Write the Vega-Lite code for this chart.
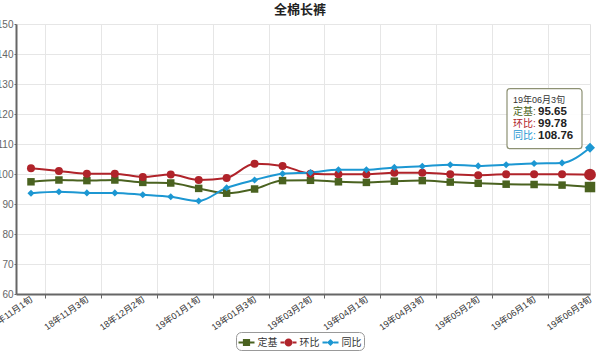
{
  "$schema": "https://vega.github.io/schema/vega-lite/v6.json",
  "width": 574,
  "height": 270,
  "autosize": {"type": "none"},
  "padding": {"left": 16, "top": 24, "right": 10, "bottom": 64},
  "background": "white",
  "title": {"text": "全棉长裤", "anchor": "middle", "fontSize": 13, "fontWeight": "bold", "color": "#222", "offset": 2, "dx": -3},
  "config": {
    "font": "Liberation Sans, Noto Sans CJK SC, sans-serif",
    "view": {"stroke": "#e0e0e0"}
  },
  "data": {
    "values": [
      {"period": "18年11月1旬", "定基": 97.4, "环比": 101.9, "同比": 93.6},
      {"period": "18年11月2旬", "定基": 98.0, "环比": 101.0, "同比": 94.1},
      {"period": "18年11月3旬", "定基": 97.8, "环比": 100.1, "同比": 93.7},
      {"period": "18年12月1旬", "定基": 98.0, "环比": 100.1, "同比": 93.7},
      {"period": "18年12月2旬", "定基": 97.2, "环比": 99.0, "同比": 93.1},
      {"period": "18年12月3旬", "定基": 97.0, "环比": 99.8, "同比": 92.4},
      {"period": "19年01月1旬", "定基": 95.2, "环比": 98.0, "同比": 91.0},
      {"period": "19年01月2旬", "定基": 93.6, "环比": 98.7, "同比": 95.4},
      {"period": "19年01月3旬", "定基": 95.0, "环比": 103.4, "同比": 98.0},
      {"period": "19年03月1旬", "定基": 97.8, "环比": 102.7, "同比": 100.1},
      {"period": "19年03月2旬", "定基": 97.9, "环比": 100.1, "同比": 100.5},
      {"period": "19年03月3旬", "定基": 97.4, "环比": 99.9, "同比": 101.4},
      {"period": "19年04月1旬", "定基": 97.2, "环比": 99.9, "同比": 101.4},
      {"period": "19年04月2旬", "定基": 97.6, "环比": 100.4, "同比": 102.2},
      {"period": "19年04月3旬", "定基": 97.8, "环比": 100.4, "同比": 102.6},
      {"period": "19年05月1旬", "定基": 97.3, "环比": 99.9, "同比": 103.1},
      {"period": "19年05月2旬", "定基": 96.9, "环比": 99.6, "同比": 102.7},
      {"period": "19年05月3旬", "定基": 96.6, "环比": 99.9, "同比": 103.1},
      {"period": "19年06月1旬", "定基": 96.5, "环比": 99.9, "同比": 103.5},
      {"period": "19年06月2旬", "定基": 96.3, "环比": 99.9, "同比": 103.7},
      {"period": "19年06月3旬", "定基": 95.65, "环比": 99.78, "同比": 108.76}
    ]
  },
  "encoding": {
    "x": {
      "field": "period",
      "type": "ordinal",
      "sort": null,
      "scale": {"type": "point", "padding": 0.268, "align": 1},
      "axis": {
        "title": null,
        "values": ["18年11月1旬", "18年11月3旬", "18年12月2旬", "19年01月1旬", "19年01月3旬", "19年03月2旬", "19年04月1旬", "19年04月3旬", "19年05月2旬", "19年06月1旬", "19年06月3旬"],
        "tickOffset": 14,
        "labelOffset": -14,
        "labelAngle": -35,
        "labelAlign": "right",
        "labelBaseline": "middle",
        "labelFontSize": 9,
        "labelColor": "#333",
        "labelPadding": 0,
        "labelOverlap": false,
        "tickSize": 4,
        "tickColor": "#666",
        "domainColor": "#666",
        "domainWidth": 2,
        "grid": true,
        "gridColor": "#e6e6e6"
      }
    }
  },
  "layer": [
    {
      "transform": [{"fold": ["定基", "环比", "同比"], "as": ["series", "value"]}],
      "mark": {"type": "line", "interpolate": "monotone", "strokeWidth": 2},
      "encoding": {
        "y": {
          "field": "value",
          "type": "quantitative",
          "scale": {"domain": [60, 150], "nice": false, "zero": false},
          "axis": {
            "title": null,
            "tickCount": 9,
            "labelFontSize": 10,
            "labelColor": "#666",
            "tickSize": 2,
            "tickColor": "#666",
            "labelPadding": 1,
            "domainColor": "#666",
            "domainWidth": 2,
            "gridColor": "#e6e6e6"
          }
        },
        "color": {
          "field": "series",
          "type": "nominal",
          "scale": {"domain": ["定基", "环比", "同比"], "range": ["#4a6220", "#b0232a", "#1c97d2"]},
          "legend": {
            "title": null,
            "orient": "none",
            "legendX": 220,
            "legendY": 308,
            "direction": "horizontal",
            "symbolSize": 256,
            "symbolType": "M-1,-0.12H1V0.12H-1Z",
            "symbolStrokeWidth": 0,
            "labelFontSize": 10,
            "labelColor": "#333",
            "labelOffset": 3,
            "columnPadding": 3,
            "padding": 2.5,
            "strokeColor": "#999",
            "cornerRadius": 5,
            "fillColor": "white",
            "encode": {
              "symbols": {
                "update": {
                  "shape": {"signal": "datum.value === '定基' ? 'M-1,-0.12H-0.45V0.12H-1Z M0.45,-0.12H1V0.12H0.45Z M-0.45,-0.45H0.45V0.45H-0.45Z' : datum.value === '环比' ? 'M-1,-0.12H-0.45V0.12H-1Z M0.45,-0.12H1V0.12H0.45Z M-0.5,0A0.5,0.5 0 1,0 0.5,0A0.5,0.5 0 1,0 -0.5,0Z' : 'M-1,-0.12H-0.4V0.12H-1Z M0.4,-0.12H1V0.12H0.4Z M0,-0.45L0.45,0L0,0.45L-0.45,0Z'"},
                  "fill": {"scale": "color", "field": "value"},
                  "stroke": {"value": "transparent"},
                  "strokeWidth": {"value": 0},
                  "opacity": {"value": 1},
                  "size": {"value": 256}
                }
              }
            }
          }
        }
      }
    },
    {
      "transform": [{"fold": ["定基", "环比", "同比"], "as": ["series", "value"]}, {"filter": "datum.series === '定基'"}],
      "mark": {"type": "point", "shape": "square", "filled": true, "opacity": 1, "strokeWidth": 0},
      "encoding": {
        "y": {"field": "value", "type": "quantitative"},
        "color": {"field": "series", "type": "nominal"},
        "size": {"condition": {"test": "datum.period === '19年06月3旬'", "value": 110}, "value": 56}
      }
    },
    {
      "transform": [{"fold": ["定基", "环比", "同比"], "as": ["series", "value"]}, {"filter": "datum.series === '环比'"}],
      "mark": {"type": "point", "shape": "circle", "filled": true, "opacity": 1, "strokeWidth": 0},
      "encoding": {
        "y": {"field": "value", "type": "quantitative"},
        "color": {"field": "series", "type": "nominal"},
        "size": {"condition": {"test": "datum.period === '19年06月3旬'", "value": 140}, "value": 64}
      }
    },
    {
      "transform": [{"fold": ["定基", "环比", "同比"], "as": ["series", "value"]}, {"filter": "datum.series === '同比'"}],
      "mark": {"type": "point", "shape": "diamond", "filled": true, "opacity": 1, "strokeWidth": 0},
      "encoding": {
        "y": {"field": "value", "type": "quantitative"},
        "color": {"field": "series", "type": "nominal"},
        "size": {"condition": {"test": "datum.period === '19年06月3旬'", "value": 100}, "value": 50}
      }
    },
    {
      "transform": [{"filter": "datum.period === '19年06月3旬'"}],
      "mark": {"type": "point", "shape": "M-80,-59H-11A3,3 0 0 1 -8,-56V-2A3,3 0 0 1 -11,1H-80A3,3 0 0 1 -83,-2V-56A3,3 0 0 1 -80,-59Z", "size": 4, "filled": true, "fill": "white", "fillOpacity": 0.92, "stroke": "#8d9173", "strokeWidth": 1.2, "opacity": 1},
      "encoding": {"y": {"field": "同比", "type": "quantitative"}}
    },
    {
      "transform": [{"filter": "datum.period === '19年06月3旬'"}],
      "mark": {"type": "text", "align": "left", "baseline": "alphabetic", "dx": -77, "dy": -45, "fontSize": 9, "color": "#333"},
      "encoding": {"y": {"field": "同比", "type": "quantitative"}, "text": {"field": "period"}}
    },
    {
      "transform": [{"filter": "datum.period === '19年06月3旬'"}],
      "mark": {"type": "text", "align": "left", "baseline": "middle", "dx": -77, "dy": -35.5, "fontSize": 10, "color": "#4a6220"},
      "encoding": {"y": {"field": "同比", "type": "quantitative"}, "text": {"value": "定基:"}}
    },
    {
      "transform": [{"filter": "datum.period === '19年06月3旬'"}],
      "mark": {"type": "text", "align": "left", "baseline": "middle", "dx": -77, "dy": -23.5, "fontSize": 10, "color": "#b0232a"},
      "encoding": {"y": {"field": "同比", "type": "quantitative"}, "text": {"value": "环比:"}}
    },
    {
      "transform": [{"filter": "datum.period === '19年06月3旬'"}],
      "mark": {"type": "text", "align": "left", "baseline": "middle", "dx": -77, "dy": -11.5, "fontSize": 10, "color": "#1c97d2"},
      "encoding": {"y": {"field": "同比", "type": "quantitative"}, "text": {"value": "同比:"}}
    },
    {
      "transform": [{"filter": "datum.period === '19年06月3旬'"}],
      "mark": {"type": "text", "align": "left", "baseline": "middle", "dx": -52, "dy": -35.5, "fontSize": 11.5, "fontWeight": "bold", "color": "#222"},
      "encoding": {"y": {"field": "同比", "type": "quantitative"}, "text": {"field": "定基", "format": ".2f"}}
    },
    {
      "transform": [{"filter": "datum.period === '19年06月3旬'"}],
      "mark": {"type": "text", "align": "left", "baseline": "middle", "dx": -52, "dy": -23.5, "fontSize": 11.5, "fontWeight": "bold", "color": "#222"},
      "encoding": {"y": {"field": "同比", "type": "quantitative"}, "text": {"field": "环比", "format": ".2f"}}
    },
    {
      "transform": [{"filter": "datum.period === '19年06月3旬'"}],
      "mark": {"type": "text", "align": "left", "baseline": "middle", "dx": -52, "dy": -11.5, "fontSize": 11.5, "fontWeight": "bold", "color": "#222"},
      "encoding": {"y": {"field": "同比", "type": "quantitative"}, "text": {"field": "同比", "format": ".2f"}}
    }
  ]
}
